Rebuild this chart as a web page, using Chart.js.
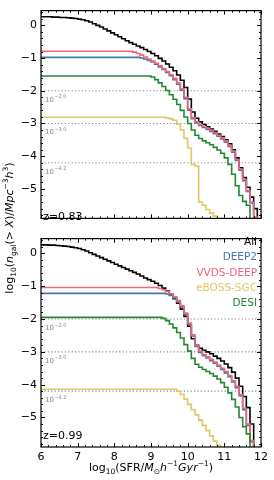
<!DOCTYPE html>
<html>
<head>
<meta charset="utf-8">
<script src="https://cdn.jsdelivr.net/npm/chart.js@4.4.0/dist/chart.umd.min.js"></script>
<style>
  body { margin: 0; background: #fff; }
  #wrap { position: relative; width: 274px; height: 480px; font-family: "DejaVu Sans", sans-serif; color: #000; overflow: hidden; }
  #cTop { position: absolute; left: 0; top: 0; }
  #cBot { position: absolute; left: 0; top: 228px; }
  .zlab { position: absolute; left: 43px; font-size: 11px; line-height: 13px; }
  #legend { position: absolute; right: 17px; top: 234px; text-align: right; font-size: 10.5px; line-height: 15.3px; }
  #xtitle { position: absolute; left: 41px; width: 220px; top: 461px; text-align: center; font-size: 11px; line-height: 14px; white-space: nowrap; }
  #ytitle { position: absolute; left: -140px; top: 221px; width: 300px; height: 14px; text-align: center; font-size: 11px; line-height: 14px; white-space: nowrap; transform: rotate(-90deg); }
  sub, sup { font-size: 7.5px; line-height: 0; }
  i { font-style: italic; }
</style>
</head>
<body>
<div id="wrap">
  <canvas id="cTop" width="274" height="229"></canvas>
  <canvas id="cBot" width="274" height="252"></canvas>
  <div class="zlab" style="top:210px">z=0.83</div>
  <div class="zlab" style="top:429px">z=0.99</div>
  <div id="legend">
    <div style="color:#000000">All</div>
    <div style="color:#4477AA">DEEP2</div>
    <div style="color:#EE6677">VVDS-DEEP</div>
    <div style="color:#DDC866">eBOSS-SGC</div>
    <div style="color:#228833">DESI</div>
  </div>
  <div id="xtitle">log<sub>10</sub>(SFR/<i>M</i><sub>⊙</sub><i>h</i><sup>−1</sup><i>Gyr</i><sup>−1</sup>)</div>
  <div id="ytitle">log<sub>10</sub>(<i>n</i><sub>gal</sub>(&gt; <i>X</i>)/<i>Mpc</i><sup>−3</sup><i>h</i><sup>3</sup>)</div>
</div>
<script>
// log10 SFR bins
const sfr = [
  6.0, 6.1, 6.2, 6.3, 6.4, 6.5, 6.6, 6.7, 6.8, 6.9,
  7.0, 7.1, 7.2, 7.3, 7.4, 7.5, 7.6, 7.7, 7.8, 7.9,
  8.0, 8.1, 8.2, 8.3, 8.4, 8.5, 8.6, 8.7, 8.8, 8.9,
  9.0, 9.1, 9.2, 9.3, 9.4, 9.5, 9.6, 9.7, 9.8, 9.9,
  10.0, 10.1, 10.2, 10.3, 10.4, 10.5, 10.6, 10.7, 10.8, 10.9,
  11.0, 11.1, 11.2, 11.3, 11.4, 11.5, 11.6, 11.7, 11.8, 11.9,
  12.0
];

// z = 0.83
const allZ083 = [
  0.26, 0.26, 0.26, 0.25, 0.25, 0.24, 0.24, 0.23, 0.22, 0.21,
  0.19, 0.17, 0.14, 0.10, 0.05, 0.00, -0.05, -0.11, -0.17, -0.23,
  -0.29, -0.35, -0.41, -0.47, -0.53, -0.58, -0.63, -0.68, -0.74, -0.80,
  -0.86, -0.93, -1.01, -1.09, -1.18, -1.28, -1.39, -1.52, -1.68, -1.90,
  -2.25, -2.65, -2.84, -2.95, -3.03, -3.10, -3.17, -3.24, -3.32, -3.40,
  -3.50, -3.62, -3.80, -4.05, -4.35, -4.65, -4.95, -5.25, -5.60, -9,
  -9
];
const deep2Z083 = [
  -0.98, -0.98, -0.98, -0.98, -0.98, -0.98, -0.98, -0.98, -0.98, -0.98,
  -0.98, -0.98, -0.98, -0.98, -0.98, -0.98, -0.98, -0.98, -0.98, -0.98,
  -0.98, -0.98, -0.98, -0.98, -0.98, -0.98, -0.98, -1.00, -1.03, -1.07,
  -1.12, -1.19, -1.27, -1.35, -1.44, -1.54, -1.66, -1.80, -1.98, -2.24,
  -2.59, -2.85, -2.98, -3.06, -3.12, -3.18, -3.24, -3.31, -3.39, -3.47,
  -3.57, -3.70, -3.88, -4.13, -4.43, -4.75, -5.08, -5.43, -5.88, -9,
  -9
];
const vvdsZ083 = [
  -0.79, -0.79, -0.79, -0.79, -0.79, -0.79, -0.79, -0.79, -0.79, -0.79,
  -0.79, -0.79, -0.79, -0.79, -0.79, -0.79, -0.79, -0.79, -0.79, -0.79,
  -0.79, -0.79, -0.79, -0.79, -0.79, -0.82, -0.86, -0.91, -0.97, -1.03,
  -1.09, -1.16, -1.24, -1.32, -1.41, -1.51, -1.62, -1.76, -1.94, -2.20,
  -2.55, -2.82, -2.95, -3.03, -3.09, -3.15, -3.21, -3.28, -3.36, -3.44,
  -3.54, -3.67, -3.85, -4.10, -4.40, -4.72, -5.05, -5.40, -5.86, -9,
  -9
];
const ebossZ083 = [
  -2.81, -2.81, -2.81, -2.81, -2.81, -2.81, -2.81, -2.81, -2.81, -2.81,
  -2.81, -2.81, -2.81, -2.81, -2.81, -2.81, -2.81, -2.81, -2.81, -2.81,
  -2.81, -2.81, -2.81, -2.81, -2.81, -2.81, -2.81, -2.81, -2.81, -2.81,
  -2.81, -2.81, -2.81, -2.81, -2.83, -2.86, -2.90, -3.02, -3.20, -3.45,
  -3.75, -4.25, -4.30, -5.40, -5.50, -5.63, -5.74, -5.83, -9, -9,
  -9, -9, -9, -9, -9, -9, -9, -9, -9, -9,
  -9
];
const desiZ083 = [
  -1.55, -1.55, -1.55, -1.55, -1.55, -1.55, -1.55, -1.55, -1.55, -1.55,
  -1.55, -1.55, -1.55, -1.55, -1.55, -1.55, -1.55, -1.55, -1.55, -1.55,
  -1.55, -1.55, -1.55, -1.55, -1.55, -1.55, -1.55, -1.55, -1.55, -1.55,
  -1.58, -1.66, -1.76, -1.87, -1.99, -2.12, -2.26, -2.42, -2.60, -2.80,
  -3.00, -3.20, -3.36, -3.46, -3.53, -3.59, -3.65, -3.73, -3.81, -3.91,
  -4.05, -4.25, -4.55, -4.90, -5.20, -5.38, -5.50, -9, -9, -9,
  -9
];

// z = 0.99
const allZ099 = [
  0.26, 0.26, 0.25, 0.25, 0.24, 0.23, 0.22, 0.21, 0.19, 0.17,
  0.15, 0.11, 0.07, 0.02, -0.03, -0.08, -0.13, -0.18, -0.23, -0.28,
  -0.33, -0.38, -0.43, -0.48, -0.53, -0.58, -0.63, -0.69, -0.75, -0.80,
  -0.85, -0.91, -0.98, -1.06, -1.15, -1.26, -1.38, -1.52, -1.70, -1.92,
  -2.22, -2.60, -2.80, -2.89, -2.95, -3.00, -3.06, -3.13, -3.20, -3.28,
  -3.37, -3.48, -3.62, -3.80, -4.05, -4.36, -4.70, -5.20, -9, -9,
  -9
];
const deep2Z099 = [
  -1.22, -1.22, -1.22, -1.22, -1.22, -1.22, -1.22, -1.22, -1.22, -1.22,
  -1.22, -1.22, -1.22, -1.22, -1.22, -1.22, -1.22, -1.22, -1.22, -1.22,
  -1.22, -1.22, -1.22, -1.22, -1.22, -1.22, -1.22, -1.22, -1.22, -1.22,
  -1.22, -1.22, -1.22, -1.22, -1.24, -1.28, -1.36, -1.47, -1.63, -1.85,
  -2.16, -2.52, -2.84, -3.02, -3.12, -3.19, -3.27, -3.35, -3.44, -3.54,
  -3.64, -3.76, -3.92, -4.09, -4.34, -4.76, -5.24, -5.74, -9, -9,
  -9
];
const vvdsZ099 = [
  -1.04, -1.04, -1.04, -1.04, -1.04, -1.04, -1.04, -1.04, -1.04, -1.04,
  -1.04, -1.04, -1.04, -1.04, -1.04, -1.04, -1.04, -1.04, -1.04, -1.04,
  -1.04, -1.04, -1.04, -1.04, -1.04, -1.04, -1.04, -1.04, -1.04, -1.04,
  -1.04, -1.04, -1.07, -1.11, -1.16, -1.23, -1.32, -1.44, -1.60, -1.82,
  -2.12, -2.48, -2.80, -2.98, -3.08, -3.15, -3.23, -3.31, -3.40, -3.50,
  -3.60, -3.72, -3.88, -4.05, -4.30, -4.72, -5.20, -5.70, -9, -9,
  -9
];
const ebossZ099 = [
  -4.14, -4.14, -4.14, -4.14, -4.14, -4.14, -4.14, -4.14, -4.14, -4.14,
  -4.14, -4.14, -4.14, -4.14, -4.14, -4.14, -4.14, -4.14, -4.14, -4.14,
  -4.14, -4.14, -4.14, -4.14, -4.14, -4.14, -4.14, -4.14, -4.14, -4.14,
  -4.14, -4.14, -4.14, -4.14, -4.14, -4.14, -4.14, -4.20, -4.30, -4.44,
  -4.60, -4.76, -4.92, -5.08, -5.24, -5.40, -5.56, -5.72, -5.85, -9,
  -9, -9, -9, -9, -9, -9, -9, -9, -9, -9,
  -9
];
const desiZ099 = [
  -1.95, -1.95, -1.95, -1.95, -1.95, -1.95, -1.95, -1.95, -1.95, -1.95,
  -1.95, -1.95, -1.95, -1.95, -1.95, -1.95, -1.95, -1.95, -1.95, -1.95,
  -1.95, -1.95, -1.95, -1.95, -1.95, -1.95, -1.95, -1.95, -1.95, -1.95,
  -1.95, -1.95, -1.95, -1.98, -2.05, -2.15, -2.27, -2.41, -2.58, -2.78,
  -2.98, -3.20, -3.38, -3.47, -3.54, -3.60, -3.66, -3.74, -3.83, -3.94,
  -4.08, -4.25, -4.45, -4.68, -5.00, -5.28, -5.50, -9, -9, -9,
  -9
];

const surveys = ['All', 'DEEP2', 'VVDS-DEEP', 'eBOSS-SGC', 'DESI'];
const colors = ['#000000', '#4477AA', '#EE6677', '#DDC866', '#228833'];

// dotted number-density thresholds
const refLevels = [-2.0, -3.0, -4.2];
const refLabels = ['\u22122.0', '\u22123.0', '\u22124.2'];

const xTicks = [6, 7, 8, 9, 10, 11, 12];
const yTicks = [0, -1, -2, -3, -4, -5];

const minus = v => String(v).replace('-', '\u2212');

// frame with inward ticks on all sides + labels for the dotted lines
const frameTicks = {
  id: 'frameTicks',
  afterDatasetsDraw(chart) {
    const { ctx, chartArea: a, scales: { x, y } } = chart;
    ctx.save();
    ctx.strokeStyle = '#000';
    ctx.lineWidth = 1;
    ctx.beginPath();
    for (let k = 30; k <= 60; k++) {
      const px = Math.round(x.getPixelForValue(k / 5)) + 0.5;
      const len = k % 5 === 0 ? 4 : 2;
      ctx.moveTo(px, a.bottom); ctx.lineTo(px, a.bottom - len);
      ctx.moveTo(px, a.top); ctx.lineTo(px, a.top + len);
    }
    for (let k = -29; k <= 2; k++) {
      const py = Math.round(y.getPixelForValue(k / 5)) + 0.5;
      const len = k % 5 === 0 ? 4 : 2;
      ctx.moveTo(a.left, py); ctx.lineTo(a.left + len, py);
      ctx.moveTo(a.right, py); ctx.lineTo(a.right - len, py);
    }
    ctx.stroke();
    ctx.lineWidth = 1.2;
    ctx.strokeRect(a.left, a.top, a.right - a.left, a.bottom - a.top);

    ctx.fillStyle = '#888888';
    ctx.textBaseline = 'alphabetic';
    refLevels.forEach((lv, i) => {
      const py = y.getPixelForValue(lv);
      ctx.font = '7px "DejaVu Sans"';
      ctx.fillText('10', a.left + 4, py + 11);
      const w = ctx.measureText('10').width;
      ctx.font = '5px "DejaVu Sans"';
      ctx.fillText(refLabels[i], a.left + 4 + w + 0.5, py + 7.5);
    });
    ctx.restore();
  }
};

function makeSets(series) {
  const sets = series.map((vals, i) => ({
    label: surveys[i],
    data: vals.map((v, j) => ({ x: sfr[j], y: v })),
    borderColor: colors[i],
    borderWidth: 1.6,
    stepped: true,
    pointRadius: 0,
    fill: false,
    clip: 0,
    order: series.length - i + 1
  }));
  refLevels.forEach(lv => {
    sets.push({
      label: 'ref',
      data: [{ x: 6, y: lv }, { x: 12, y: lv }],
      borderColor: '#888888',
      borderWidth: 1.2,
      borderDash: [1.2, 2.2],
      pointRadius: 0,
      clip: 0,
      order: 10
    });
  });
  return sets;
}

function makeChart(id, series, showX, pad, xHeight) {
  return new Chart(document.getElementById(id), {
    type: 'line',
    data: { datasets: makeSets(series) },
    options: {
      responsive: false,
      animation: false,
      events: [],
      layout: { padding: pad },
      plugins: { legend: { display: false }, tooltip: { enabled: false } },
      scales: {
        x: {
          type: 'linear', min: 6, max: 12,
          display: true,
          grid: { display: false, drawTicks: false },
          border: { display: false },
          afterBuildTicks: s => { s.ticks = xTicks.map(v => ({ value: v })); },
          afterFit: s => { s.height = xHeight; },
          ticks: {
            display: showX, padding: 4, color: '#000',
            font: { family: 'DejaVu Sans', size: 11 },
            maxRotation: 0, autoSkip: false
          }
        },
        y: {
          type: 'linear', min: -5.9, max: 0.45,
          grid: { display: false, drawTicks: false },
          border: { display: false },
          afterBuildTicks: s => { s.ticks = yTicks.map(v => ({ value: v })); },
          afterFit: s => { s.width = 41; },
          ticks: {
            padding: 4, color: '#000',
            font: { family: 'DejaVu Sans', size: 11 },
            callback: v => minus(v)
          }
        }
      }
    },
    plugins: [frameTicks]
  });
}

makeChart('cTop', [allZ083, deep2Z083, vvdsZ083, ebossZ083, desiZ083], false,
  { left: 0, right: 13, top: 9, bottom: 1 }, 0);
makeChart('cBot', [allZ099, deep2Z099, vvdsZ099, ebossZ099, desiZ099], true,
  { left: 0, right: 13, top: 0, bottom: 14 }, 19);
</script>
</body>
</html>
